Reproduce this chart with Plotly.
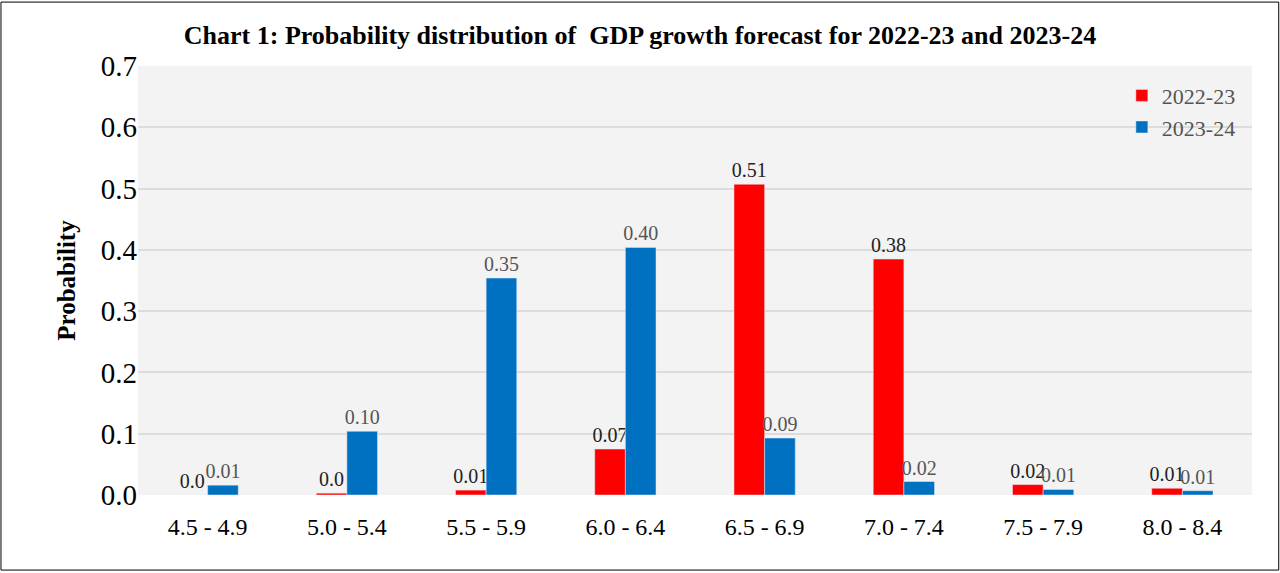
import plotly.graph_objects as go

categories = ["4.5 - 4.9", "5.0 - 5.4", "5.5 - 5.9", "6.0 - 6.4",
              "6.5 - 6.9", "7.0 - 7.4", "7.5 - 7.9", "8.0 - 8.4"]
fy2223 = [0.0, 0.003, 0.008, 0.075, 0.507, 0.385, 0.017, 0.011]
fy2324 = [0.016, 0.104, 0.354, 0.404, 0.093, 0.022, 0.009, 0.007]
labels2223 = ["0.0", "0.0", "0.01", "0.07", "0.51", "0.38", "0.02", "0.01"]
labels2324 = ["0.01", "0.10", "0.35", "0.40", "0.09", "0.02", "0.01", "0.01"]

font = "Liberation Serif, Times New Roman, serif"

fig = go.Figure()

fig.add_trace(go.Bar(x=categories, y=fy2223, name="2022-23", marker_color="#ff0000",
                     text=labels2223, textposition="outside", constraintext="none",
                     textfont=dict(size=20, color="#222"), cliponaxis=False))
fig.add_trace(go.Bar(x=categories, y=fy2324, name="2023-24", marker_color="#0070c0",
                     text=labels2324, textposition="outside", constraintext="none",
                     textfont=dict(size=20, color="#555"), cliponaxis=False))

fig.update_layout(
    width=1280, height=573,
    paper_bgcolor="white", plot_bgcolor="#f3f3f3",
    font=dict(family=font, size=20, color="black"),
    margin=dict(l=138, r=28, t=66, b=78),
    barmode="group", bargap=0.56, bargroupgap=0,
    title=dict(text="<b>Chart 1: Probability distribution of  GDP growth forecast for 2022-23 and 2023-24</b>",
               x=0.5, xanchor="center", y=0.955, font=dict(size=26)),
    xaxis=dict(showgrid=False, showline=False, ticks="outside", ticklen=10,
               tickcolor="rgba(0,0,0,0)", tickfont=dict(size=24)),
    yaxis=dict(range=[0, 0.7], dtick=0.1, tickformat=".1f", gridcolor="#dcdcdc",
               gridwidth=2, zeroline=False, tickfont=dict(size=29),
               title=dict(text="<b>Probability</b>", font=dict(size=25), standoff=18)),
    legend=dict(x=0.99, y=0.98, xanchor="right", yanchor="top",
                bgcolor="rgba(0,0,0,0)", font=dict(size=22, color="#555")),
    shapes=[dict(type="rect", xref="paper", yref="paper", x0=-0.123, x1=1.024,
                 y0=-0.175, y1=1.149, line=dict(color="black", width=1))],
)

fig.write_html("out.html", config={"displayModeBar": False},
               post_script="document.body.style.margin='0';")
